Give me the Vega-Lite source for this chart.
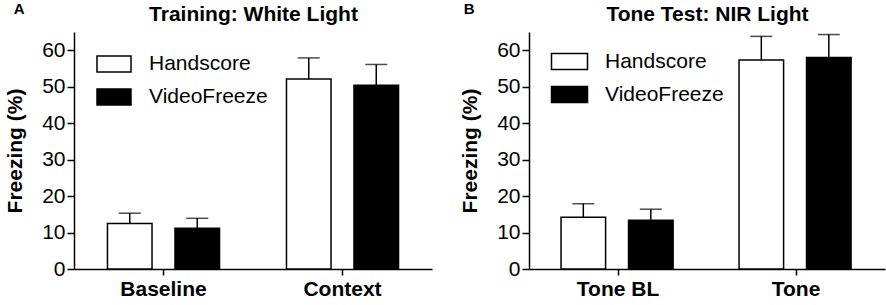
{
  "$schema": "https://vega.github.io/schema/vega-lite/v6.json",
  "padding": {"left": 4, "top": 2, "right": 2, "bottom": 4},
  "background": "white",
  "config": {
    "font": "Liberation Sans",
    "view": {"stroke": null},
    "axis": {"grid": false, "domainColor": "black", "domainWidth": 1.5, "tickColor": "black", "tickWidth": 1.5, "labelColor": "black", "titleColor": "black", "labelFont": "Liberation Sans", "titleFont": "Liberation Sans", "labelOverlap": false},
    "axisY": {"title": "Freezing (%)", "titleFontSize": 21, "titleFontWeight": "bold", "titlePadding": 16, "labelFontSize": 21, "tickSize": 7, "labelPadding": 2},
    "legend": {"labelFont": "Liberation Sans"},
    "title": {"font": "Liberation Sans", "color": "black"}
  },
  "datasets": {
    "vals": [
      {"panel": "A", "cond": "Baseline", "method": "Handscore", "mean": 12.5, "upper": 15.3},
      {"panel": "A", "cond": "Baseline", "method": "VideoFreeze", "mean": 11.2, "upper": 13.9},
      {"panel": "A", "cond": "Context", "method": "Handscore", "mean": 52.1, "upper": 57.9},
      {"panel": "A", "cond": "Context", "method": "VideoFreeze", "mean": 50.4, "upper": 56.1},
      {"panel": "B", "cond": "Tone BL", "method": "Handscore", "mean": 14.2, "upper": 17.9},
      {"panel": "B", "cond": "Tone BL", "method": "VideoFreeze", "mean": 13.4, "upper": 16.4},
      {"panel": "B", "cond": "Tone", "method": "Handscore", "mean": 57.3, "upper": 63.8},
      {"panel": "B", "cond": "Tone", "method": "VideoFreeze", "mean": 58.0, "upper": 64.3}
    ]
  },
  "spacing": 27,
  "resolve": {"scale": {"x": "independent", "y": "independent", "fill": "independent"}, "legend": {"fill": "independent"}},
  "hconcat": [
    {
      "width": 358,
      "height": 237,
      "title": {"text": "A", "anchor": "start", "frame": "bounds", "fontSize": 15, "fontWeight": "bold", "offset": -14, "dx": 9},
      "data": {"name": "vals"},
      "transform": [{"filter": "datum.panel == 'A'"}],
      "layer": [
        {
          "mark": {"type": "bar", "stroke": "black", "strokeWidth": 1.5},
          "encoding": {
            "x": {"field": "cond", "type": "nominal", "sort": ["Baseline", "Context"], "scale": {"paddingInner": 0.374, "paddingOuter": 0.187},
              "axis": {"orient": "bottom", "title": null, "labelAngle": 0, "labelFontSize": 21, "labelFontWeight": "bold", "tickSize": 6, "labelPadding": 3}},
            "xOffset": {"field": "method", "type": "nominal", "sort": ["Handscore", "VideoFreeze"], "scale": {"paddingInner": 0.34, "paddingOuter": 0}},
            "y": {"field": "mean", "type": "quantitative", "scale": {"domain": [0, 65], "nice": false},
              "axis": {"title": "Freezing (%)", "values": [0, 10, 20, 30, 40, 50, 60]}},
            "fill": {"field": "method", "type": "nominal", "scale": {"domain": ["Handscore", "VideoFreeze"], "range": ["white", "black"]},
              "legend": {"title": null, "orient": "none", "legendX": 26.5, "legendY": 18.5, "padding": 0, "symbolType": "M-1.36,-0.64L1.36,-0.64L1.36,0.64L-1.36,0.64Z", "symbolSize": 625, "symbolStrokeColor": "black", "symbolStrokeWidth": 1.5, "labelFontSize": 21, "labelColor": "black", "labelOffset": 21.5, "rowPadding": 8}}
          }
        },
        {
          "mark": {"type": "rule", "strokeWidth": 1.5, "color": "black"},
          "encoding": {
            "x": {"field": "cond", "type": "nominal", "sort": ["Baseline", "Context"],
              "axis": {"orient": "top", "title": "Training: White Light", "titleFontSize": 21, "titleFontWeight": "bold", "titlePadding": 8, "labels": false, "ticks": false, "domain": false}},
            "xOffset": {"field": "method", "type": "nominal", "sort": ["Handscore", "VideoFreeze"]},
            "y": {"field": "mean", "type": "quantitative", "axis": {"title": "Freezing (%)", "values": [0, 10, 20, 30, 40, 50, 60]}},
            "y2": {"field": "upper"}
          }
        },
        {
          "mark": {"type": "tick", "size": 22, "thickness": 1.5, "color": "black"},
          "encoding": {
            "x": {"field": "cond", "type": "nominal", "sort": ["Baseline", "Context"], "axis": null},
            "xOffset": {"field": "method", "type": "nominal", "sort": ["Handscore", "VideoFreeze"]},
            "y": {"field": "upper", "type": "quantitative", "axis": {"title": "Freezing (%)", "values": [0, 10, 20, 30, 40, 50, 60]}}
          }
        }
      ],
      "resolve": {"axis": {"x": "independent"}}
    },
    {
      "width": 356,
      "height": 237,
      "title": {"text": "B", "anchor": "start", "frame": "bounds", "fontSize": 15, "fontWeight": "bold", "offset": -14, "dx": 4},
      "data": {"name": "vals"},
      "transform": [{"filter": "datum.panel == 'B'"}],
      "layer": [
        {
          "mark": {"type": "bar", "stroke": "black", "strokeWidth": 1.5},
          "encoding": {
            "x": {"field": "cond", "type": "nominal", "sort": ["Tone BL", "Tone"], "scale": {"paddingInner": 0.36, "paddingOuter": 0.18},
              "axis": {"orient": "bottom", "title": null, "labelAngle": 0, "labelFontSize": 21, "labelFontWeight": "bold", "tickSize": 6, "labelPadding": 3}},
            "xOffset": {"field": "method", "type": "nominal", "sort": ["Handscore", "VideoFreeze"], "scale": {"paddingInner": 0.3, "paddingOuter": 0}},
            "y": {"field": "mean", "type": "quantitative", "scale": {"domain": [0, 65], "nice": false},
              "axis": {"title": "Freezing (%)", "values": [0, 10, 20, 30, 40, 50, 60]}},
            "fill": {"field": "method", "type": "nominal", "scale": {"domain": ["Handscore", "VideoFreeze"], "range": ["white", "black"]},
              "legend": {"title": null, "orient": "none", "legendX": 27, "legendY": 16, "padding": 0, "symbolType": "M-1.44,-0.64L1.44,-0.64L1.44,0.64L-1.44,0.64Z", "symbolSize": 625, "symbolStrokeColor": "black", "symbolStrokeWidth": 1.5, "labelFontSize": 21, "labelColor": "black", "labelOffset": 22, "rowPadding": 8}}
          }
        },
        {
          "mark": {"type": "rule", "strokeWidth": 1.5, "color": "black"},
          "encoding": {
            "x": {"field": "cond", "type": "nominal", "sort": ["Tone BL", "Tone"],
              "axis": {"orient": "top", "title": "Tone Test: NIR Light", "titleFontSize": 21, "titleFontWeight": "bold", "titlePadding": 8, "labels": false, "ticks": false, "domain": false}},
            "xOffset": {"field": "method", "type": "nominal", "sort": ["Handscore", "VideoFreeze"]},
            "y": {"field": "mean", "type": "quantitative", "axis": {"title": "Freezing (%)", "values": [0, 10, 20, 30, 40, 50, 60]}},
            "y2": {"field": "upper"}
          }
        },
        {
          "mark": {"type": "tick", "size": 22, "thickness": 1.5, "color": "black"},
          "encoding": {
            "x": {"field": "cond", "type": "nominal", "sort": ["Tone BL", "Tone"], "axis": null},
            "xOffset": {"field": "method", "type": "nominal", "sort": ["Handscore", "VideoFreeze"]},
            "y": {"field": "upper", "type": "quantitative", "axis": {"title": "Freezing (%)", "values": [0, 10, 20, 30, 40, 50, 60]}}
          }
        }
      ],
      "resolve": {"axis": {"x": "independent"}}
    }
  ]
}
